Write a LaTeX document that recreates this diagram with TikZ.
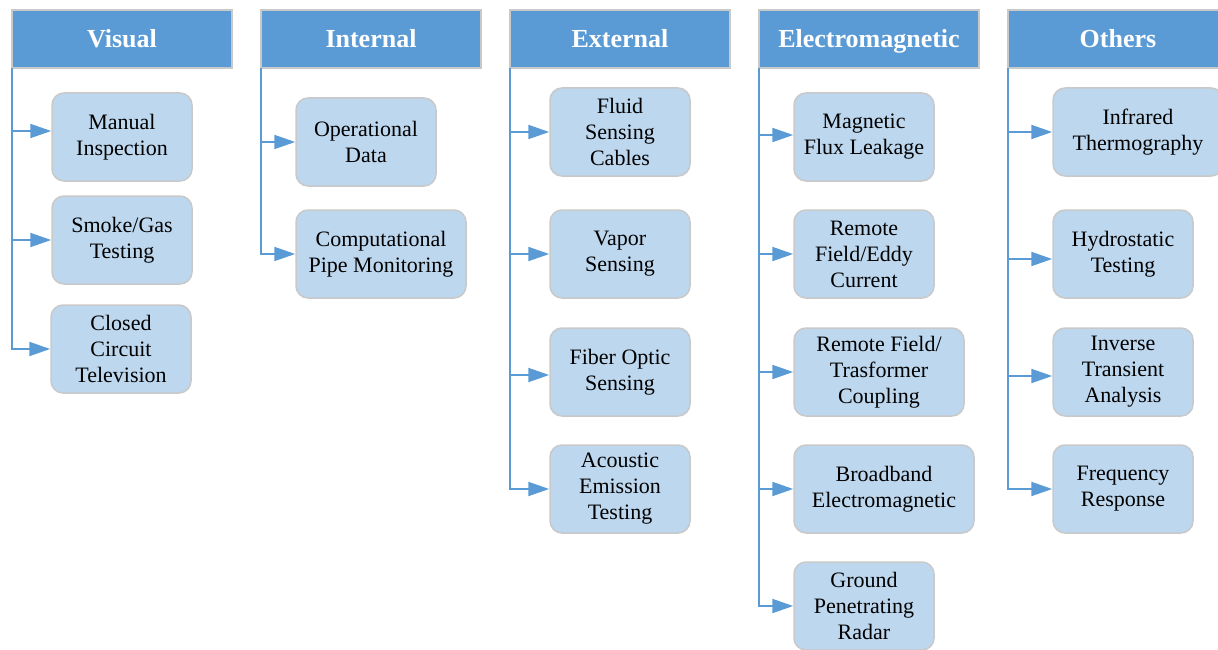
\documentclass[tikz,border=0pt]{standalone}
\usepackage{fontspec}
\setmainfont{Liberation Serif}
\usetikzlibrary{arrows.meta}
\definecolor{hdr}{HTML}{5B9BD5}
\definecolor{boxfill}{HTML}{BDD7EE}
\definecolor{edgegray}{HTML}{C9C9C9}
\tikzset{
  header/.style={draw=edgegray, line width=1.5pt, fill=hdr, text=white,
    font=\fontsize{26}{30}\selectfont\bfseries, minimum width=220pt, minimum height=58pt, inner sep=0pt,
    text height=18pt, text depth=0pt},
  item/.style={draw=edgegray, line width=1.5pt, fill=boxfill, rounded corners=12pt, align=center,
    font=\fontsize{22}{26}\selectfont, minimum height=88pt, minimum width=140pt, inner sep=0pt},
  conn/.style={draw=hdr, line width=2pt, -{Triangle[length=21pt,width=14pt]}},
}
\begin{document}
\begin{tikzpicture}[x=1pt,y=-1pt]
\useasboundingbox (0,0) rectangle (1218,650);
\clip (0,0) rectangle (1218,650);
% headers
\node[header] (hv) at (122,39) {Visual};
\node[header] (hi) at (371,39) {Internal};
\node[header] (he) at (620,39) {External};
\node[header] (hm) at (869,39) {Electromagnetic};
\node[header] (ho) at (1118,39) {Others};
\coordinate (tv) at (12,68);
\coordinate (ti) at (261,68);
\coordinate (te) at (510,68);
\coordinate (tm) at (759,68);
\coordinate (to) at (1008,68);
% Visual
\node[item] (v1) at (122,137) {Manual\\Inspection};
\node[item] (v2) at (122,240) {Smoke/Gas\\Testing};
\node[item] (v3) at (121,349) {Closed\\Circuit\\Television};
% Internal
\node[item] (i1) at (366,142) {Operational\\Data};
\node[item, minimum width=170pt] (i2) at (381,254) {Computational\\Pipe Monitoring};
% External
\node[item] (e1) at (620,132) {Fluid\\Sensing\\Cables};
\node[item] (e2) at (620,254) {Vapor\\Sensing};
\node[item] (e3) at (620,372) {Fiber Optic\\Sensing};
\node[item] (e4) at (620,489) {Acoustic\\Emission\\Testing};
% Electromagnetic
\node[item] (m1) at (864,137) {Magnetic\\Flux Leakage};
\node[item] (m2) at (864,254) {Remote\\Field/Eddy\\Current};
\node[item, minimum width=170pt] (m3) at (879,372) {Remote Field/\\Trasformer\\Coupling};
\node[item, minimum width=180pt] (m4) at (884,489) {Broadband\\Electromagnetic};
\node[item] (m5) at (864,606) {Ground\\Penetrating\\Radar};
% Others
\node[item, minimum width=170pt] (o1) at (1138,132) {Infrared\\Thermography};
\node[item] (o2) at (1123,254) {Hydrostatic\\Testing};
\node[item] (o3) at (1123,372) {Inverse\\Transient\\Analysis};
\node[item] (o4) at (1123,489) {Frequency\\Response};
% connectors
\draw[conn] (tv) |- ([yshift=6pt]v1.west);
\draw[conn] (tv) |- (v2.west);
\draw[conn] (tv) |- (v3.west);
\draw[conn] (ti) |- (i1.west);
\draw[conn] (ti) |- (i2.west);
\draw[conn] (te) |- (e1.west);
\draw[conn] (te) |- (e2.west);
\draw[conn] (te) |- ([yshift=-3pt]e3.west);
\draw[conn] (te) |- (e4.west);
\draw[conn] (tm) |- ([yshift=2pt]m1.west);
\draw[conn] (tm) |- (m2.west);
\draw[conn] (tm) |- (m3.west);
\draw[conn] (tm) |- (m4.west);
\draw[conn] (tm) |- (m5.west);
\draw[conn] (to) |- (o1.west);
\draw[conn] (to) |- ([yshift=-5pt]o2.west);
\draw[conn] (to) |- ([yshift=-4pt]o3.west);
\draw[conn] (to) |- (o4.west);
\end{tikzpicture}
\end{document}
